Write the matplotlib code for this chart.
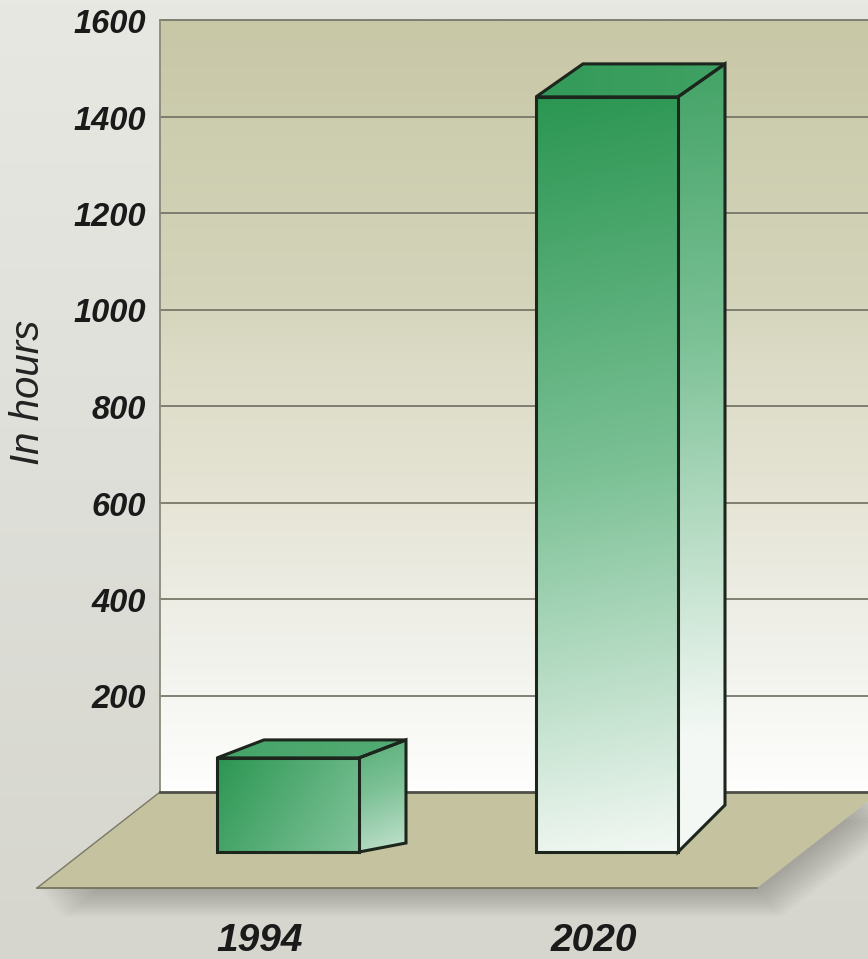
import matplotlib
matplotlib.use("Agg")
import matplotlib.pyplot as plt
import numpy as np
from matplotlib.colors import LinearSegmentedColormap
from matplotlib.patches import Polygon

# data
years = ["1994", "2020"]
hours = [195, 1565]
y_ticks = [200, 400, 600, 800, 1000, 1200, 1400, 1600]
y_label = "In hours"

# figure / layout (pixel measurements of the fake-3D scene)
W, H = 868, 959
PX_Y = 772 / 1600.0   # pixels per hour on the back wall
PX_X = 319.0          # pixels per category step
X_FIRST = 288         # front centre of the first bar
Y_ZERO = 792          # wall baseline
BAR_W = 142
BAR_BASE = 852
DEPTH_X = 47
DEPTH_TOP = [18, 33]      # vertical depth of the lid, per bar
DEPTH_BOTTOM = [9, 47]    # vertical depth at the foot, per bar
LABEL_SHIFT = [-28, -13]


def X(px):
    return (px - X_FIRST) / PX_X


def V(py):
    return (Y_ZERO - py) / PX_Y


def dX(d):
    return d / PX_X


def dV(d):
    return d / PX_Y


fig = plt.figure(figsize=(W / 100, H / 100), dpi=100)
ax = fig.add_axes([0, 0, 1, 1])
ax.set_axis_off()
XL, YL = (X(0), X(W)), (V(H), V(0))

cmap_bar = LinearSegmentedColormap.from_list(
    "bar", ["#2b9652", "#7cc196", "#f3f8f4"])
cmap_wall = LinearSegmentedColormap.from_list(
    "wall", [(0.0, "#fefefd"), (0.2, "#f0f0ea"), (0.37, "#e6e5d6"),
             (0.56, "#dcdbc6"), (0.64, "#d4d4bb"), (1.0, "#c8c8a7")])
cmap_bg = LinearSegmentedColormap.from_list(
    "bg", ["#d6d6ce", "#dedfd8", "#e8e8e2"])


def shade(xy, tfun, cmap, z, edge=None, lw=0):
    xy = np.asarray(xy)
    x0, x1 = xy[:, 0].min(), xy[:, 0].max()
    y0, y1 = xy[:, 1].min(), xy[:, 1].max()
    gx, gy = np.meshgrid(np.linspace(0, 1, 80), np.linspace(0, 1, 300))
    t = np.clip(tfun(gx, gy, x1 - x0, y1 - y0), 0, 1)
    im = ax.imshow(t, cmap=cmap, vmin=0, vmax=1, origin="lower",
                   extent=(x0, x1, y0, y1), aspect="auto",
                   interpolation="bilinear", zorder=z)
    patch = Polygon(xy, closed=True, facecolor="none",
                    edgecolor=edge if edge else "none", linewidth=lw,
                    joinstyle="miter", zorder=z + 0.5)
    ax.add_patch(patch)
    im.set_clip_path(patch)
    return patch


def diag(gx, gy, w, h):
    # linear gradient from top-left to bottom-right corner (pixel space)
    wp, hp = w * PX_X, h * PX_Y
    return (gx * wp * wp + (1 - gy) * hp * hp) / (wp * wp + hp * hp)


# background
bg = np.linspace(0, 1, 200)[:, None] * np.ones((1, 10))
ax.imshow(bg, cmap=cmap_bg, origin="lower", extent=(*XL, *YL),
          aspect="auto", zorder=0)

# back wall with gridlines
wall_l = X(160)
shade([(wall_l, 0), (XL[1] + 1, 0), (XL[1] + 1, 1600), (wall_l, 1600)],
      lambda gx, gy, w, h: gy, cmap_wall, 1)
for v in y_ticks:
    ax.plot([wall_l, XL[1] + 1], [v, v], color="#77776a", lw=1.3, zorder=2)
ax.plot([wall_l, wall_l], [0, 1600], color="#8a8a7c", lw=1.3, zorder=2)

# floor with soft drop shadow
floor_front = V(888)
floor = [(wall_l, 0), (X(880), 0), (X(757), floor_front), (X(37), floor_front)]
for k in range(1, 12):
    sh = [(x + dX(2.2 * k), y - dV(2.6 * k)) for x, y in floor]
    ax.add_patch(Polygon(sh, closed=True, facecolor="#4a4a44", alpha=0.035,
                         edgecolor="none", zorder=2.5))
ax.add_patch(Polygon(floor, closed=True, facecolor="#c5c2a0",
                     edgecolor="none", zorder=3))
ax.plot([X(37), X(757)], [floor_front, floor_front], color="#6e6d5a",
        lw=1.2, zorder=3.2)
ax.plot([X(37), wall_l], [floor_front, 0], color="#7a7966", lw=1.0, zorder=3.2)
ax.plot([wall_l, XL[1] + 1], [0, 0], color="#4e4e44", lw=2.0, zorder=3.2)

# bars
w = dX(BAR_W)
base = V(BAR_BASE)
dx = dX(DEPTH_X)
vmax = max(hours)
edge = "#1c261d"
for i, val in enumerate(hours):
    fade = (val / vmax) ** 0.3
    xl, xr = i - w / 2, i + w / 2
    top = base + val
    dt, db = dV(DEPTH_TOP[i]), dV(DEPTH_BOTTOM[i])
    front = [(xl, base), (xr, base), (xr, top), (xl, top)]
    side = [(xr, base), (xr + dx, base + db), (xr + dx, top + dt), (xr, top)]
    lid = [(xl, top), (xr, top), (xr + dx, top + dt), (xl + dx, top + dt)]
    shade(side, lambda gx, gy, ww, hh, f=fade:
          diag(gx, gy, ww, hh) * f + 0.15 + 0.25 * (1 - f),
          cmap_bar, 4, edge, 2.2)
    shade(lid, lambda gx, gy, ww, hh, f=fade:
          0.05 + 0.25 * (1 - f) + 0.08 * gx, cmap_bar, 4, edge, 2.2)
    shade(front, lambda gx, gy, ww, hh, f=fade: diag(gx, gy, ww, hh) * f,
          cmap_bar, 5, edge, 2.2)

# text
font = ["Liberation Sans", "DejaVu Sans"]
for v in y_ticks:
    ax.text(X(146), v - dV(13), f"{v}", ha="right", va="baseline",
            fontsize=23.5, fontweight="bold", style="italic",
            family=font, color="#1a1a1a", zorder=6)
for i, yr in enumerate(years):
    ax.text(i + dX(LABEL_SHIFT[i]), V(951), yr, ha="center", va="baseline",
            fontsize=28, fontweight="bold", style="italic", family=font,
            color="#1a1a1a", zorder=6)
ax.text(X(28), V(392), y_label, rotation=90, ha="center", va="center",
        fontsize=29, style="italic", family=font, color="#222222", zorder=6)

ax.set_xlim(*XL)
ax.set_ylim(*YL)
fig.savefig("out.png", dpi=100)
